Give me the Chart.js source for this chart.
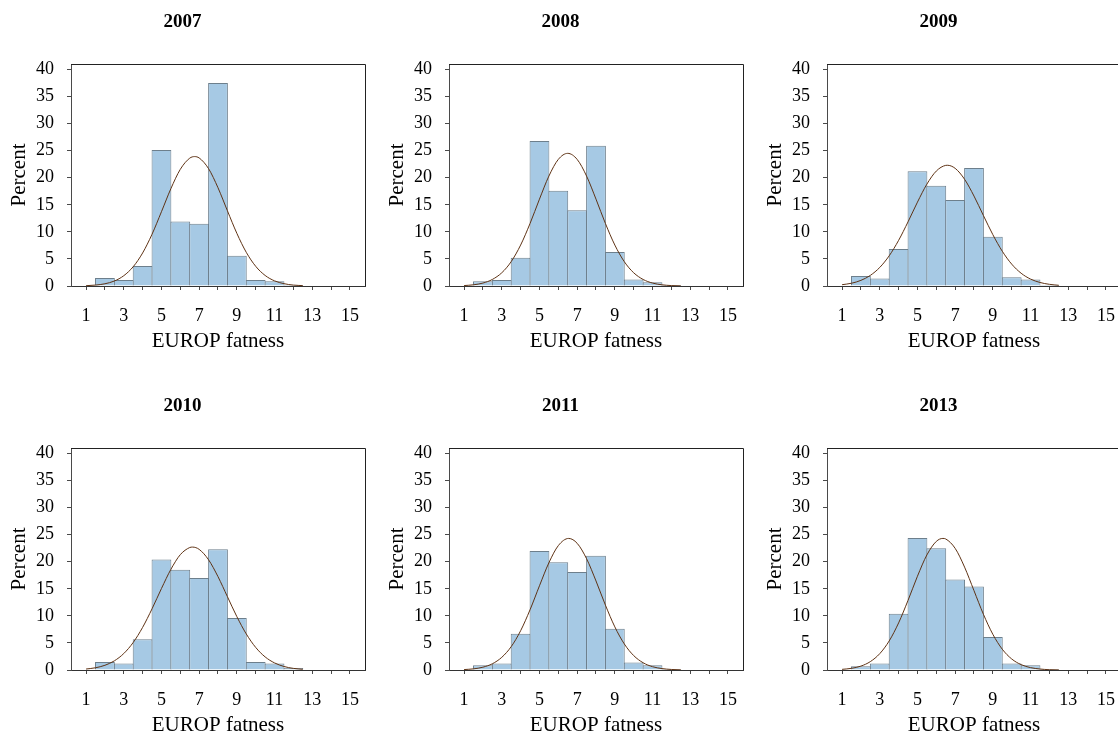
<!DOCTYPE html>
<html>
<head>
<meta charset="utf-8">
<script src="https://cdn.jsdelivr.net/npm/chart.js@4.4.1/dist/chart.umd.min.js"></script>
<style>
html,body{margin:0;padding:0;background:#fff;overflow:hidden;width:1118px;height:736px;}
.panel{position:absolute;width:378px;height:384px;}
canvas{display:block;}
</style>
</head>
<body>
<div id="wrap"></div>
<script>
// ---------- data ----------
const years = ['2007', '2008', '2009', '2010', '2011', '2013'];
const bins = [1, 2, 3, 4, 5, 6, 7, 8, 9, 10, 11, 12, 13, 14, 15];
const xTickLabels = ['1', '3', '5', '7', '9', '11', '13', '15'];
const yTickValues = [0, 5, 10, 15, 20, 25, 30, 35, 40];

const pct2007 = [0, 1.5, 1.1, 3.7, 25.1, 11.9, 11.5, 37.5, 5.6, 1.1, 0.9, 0.2, 0, 0, 0];
const pct2008 = [0, 0.9, 1.1, 5.2, 26.8, 17.6, 14.0, 25.9, 6.3, 1.2, 0.7, 0.2, 0, 0, 0];
const pct2009 = [0, 1.85, 1.4, 6.85, 21.2, 18.5, 15.9, 21.8, 9.1, 1.6, 1.2, 0.2, 0, 0, 0];
const pct2010 = [0, 1.5, 1.2, 5.7, 20.4, 18.5, 17.0, 22.3, 9.6, 1.5, 1.2, 0.35, 0, 0, 0];
const pct2011 = [0, 0.9, 1.2, 6.7, 22.0, 19.9, 18.1, 21.1, 7.6, 1.4, 0.9, 0.2, 0, 0, 0];
const pct2013 = [0, 0.7, 1.2, 10.4, 24.4, 22.5, 16.7, 15.4, 6.1, 1.2, 0.9, 0.2, 0, 0, 0];

// fitted normal curve, read at these x positions
const curveGrid = [1, 1.5, 2, 2.5, 3, 3.5, 4, 4.5, 5, 5.5, 6, 6.5, 7, 7.5, 8, 8.5, 9, 9.5, 10, 10.5, 11, 11.5, 12, 12.5];
const curve2007 = [0.06, 0.17, 0.41, 0.92, 1.90, 3.56, 6.10, 9.56, 13.72, 17.98, 21.55, 23.61, 23.65, 21.67, 18.14, 13.89, 9.73, 6.22, 3.64, 1.95, 0.95, 0.43, 0.17, 0.07];
const curve2008 = [0.08, 0.22, 0.54, 1.21, 2.44, 4.50, 7.56, 11.54, 16.04, 20.30, 23.38, 24.5, 23.38, 20.30, 16.04, 11.54, 7.56, 4.50, 2.44, 1.21, 0.54, 0.22, 0.08, 0.03];
const curve2009 = [0.24, 0.51, 1.04, 1.96, 3.43, 5.58, 8.43, 11.85, 15.49, 18.81, 21.23, 22.28, 21.73, 19.71, 16.61, 13.01, 9.48, 6.42, 4.04, 2.36, 1.28, 0.65, 0.31, 0.13];
const curve2010 = [0.18, 0.41, 0.87, 1.69, 3.04, 5.08, 7.87, 11.30, 15.05, 18.59, 21.30, 22.62, 22.28, 20.35, 17.24, 13.54, 9.86, 6.66, 4.17, 2.42, 1.31, 0.65, 0.30, 0.13];
const curve2011 = [0.08, 0.21, 0.52, 1.15, 2.34, 4.31, 7.25, 11.12, 15.55, 19.80, 22.97, 24.29, 23.40, 20.55, 16.44, 11.98, 7.96, 4.82, 2.66, 1.34, 0.61, 0.26, 0.10, 0.03];
const curve2013 = [0.12, 0.31, 0.72, 1.55, 3.02, 5.37, 8.70, 12.86, 17.32, 21.25, 23.75, 24.20, 22.47, 19.00, 14.65, 10.29, 6.59, 3.84, 2.04, 0.99, 0.44, 0.18, 0.06, 0.02];
// curve peaks [x, percent]
const curvePeaks = [[6.76, 23.9], [6.5, 24.5], [6.58, 22.3], [6.65, 22.7], [6.55, 24.3], [6.35, 24.3]];

const pctSeries = [pct2007, pct2008, pct2009, pct2010, pct2011, pct2013];
const curveSeries = [curve2007, curve2008, curve2009, curve2010, curve2011, curve2013];

// ---------- style ----------
const FONT = "'Liberation Serif', 'Times New Roman', serif";
const BAR_FILL = '#a6c9e4';
const BAR_EDGE = '#6d7f8c';
const CURVE = '#5e3214';
const AXIS = '#4a4a4a';
const TEXT = '#000000';

const PANEL_W = 378, PANEL_H = 384;
const colLeft = [0, 378, 756];
const rowTop = [0, 384];

const framePlugin = {
  id: 'frame',
  afterDraw(chart, args, opts) {
    const { ctx, chartArea } = chart;
    const { left, right, top, bottom } = chartArea;
    ctx.save();
    ctx.strokeStyle = '#222';
    ctx.lineWidth = 1;
    ctx.beginPath();
    ctx.moveTo(left, Math.round(top) + 0.5);
    ctx.lineTo(Math.round(right) + 0.5, Math.round(top) + 0.5);
    ctx.lineTo(Math.round(right) + 0.5, bottom);
    ctx.stroke();
    ctx.fillStyle = '#000';
    ctx.font = 'bold 19px ' + FONT;
    ctx.textAlign = 'center';
    ctx.textBaseline = 'middle';
    ctx.fillText(opts.year, right / 2, 22);
    ctx.restore();
  }
};

function curvePoints(vals, peak) {
  const pts = curveGrid.map((x, i) => ({ x: x, y: vals[i] }))
    .filter(p => Math.abs(p.x - peak[0]) > 0.05);
  pts.push({ x: peak[0], y: peak[1] });
  pts.sort((a, b) => a.x - b.x);
  return pts;
}

const wrap = document.getElementById('wrap');
years.forEach((yr, idx) => {
  const div = document.createElement('div');
  div.className = 'panel';
  div.style.left = colLeft[idx % 3] + 'px';
  div.style.top = rowTop[Math.floor(idx / 3)] + 'px';
  const cv = document.createElement('canvas');
  cv.width = PANEL_W; cv.height = PANEL_H;
  cv.style.width = PANEL_W + 'px'; cv.style.height = PANEL_H + 'px';
  div.appendChild(cv);
  wrap.appendChild(div);

  const vals = pctSeries[idx];
  new Chart(cv, {
    type: 'bar',
    data: {
      datasets: [
        {
          type: 'line',
          data: curvePoints(curveSeries[idx], curvePeaks[idx]),
          borderColor: CURVE,
          borderWidth: 1,
          pointRadius: 0,
          fill: false,
          cubicInterpolationMode: 'monotone',
          order: 0
        },
        {
          type: 'bar',
          data: bins.map((b, i) => ({ x: b, y: vals[i] })),
          backgroundColor: BAR_FILL,
          borderColor: BAR_EDGE,
          borderWidth: 1,
          barPercentage: 1.05,
          categoryPercentage: 1,
          order: 1
        }
      ]
    },
    options: {
      responsive: false,
      animation: false,
      devicePixelRatio: 1,
      layout: { padding: { left: 0, right: 13, top: 64, bottom: 0 } },
      plugins: {
        legend: { display: false },
        tooltip: { enabled: false },
        title: { display: false },
        frame: { year: yr }
      },
      scales: {
        x: {
          type: 'linear',
          min: 0.2,
          max: 15.8,
          offset: false,
          ticks: {
            stepSize: 1,
            autoSkip: false,
            includeBounds: false,
            maxRotation: 0,
            padding: 15,
            color: TEXT,
            font: { family: FONT, size: 18 },
            callback: (v) => xTickLabels.includes(String(v)) ? String(v) : ''
          },
          grid: { drawOnChartArea: false, offset: false, tickLength: 4, color: AXIS },
          border: { display: true, color: '#333' },
          title: {
            display: true,
            text: 'EUROP fatness',
            color: TEXT,
            font: { family: FONT, size: 21 },
            padding: { top: 0, bottom: 30 }
          },
          afterFit: (s) => { s.height = 98; }
        },
        y: {
          min: 0,
          max: 41,
          ticks: {
            stepSize: 5,
            includeBounds: false,
            padding: 13,
            color: TEXT,
            font: { family: FONT, size: 18 },
            callback: (v) => yTickValues.includes(v) ? String(v) : ''
          },
          grid: { drawOnChartArea: false, tickLength: 4, color: AXIS },
          border: { display: true, color: AXIS },
          title: {
            display: true,
            text: 'Percent',
            color: TEXT,
            font: { family: FONT, size: 21 },
            padding: { top: 7, bottom: 0 }
          },
          afterFit: (s) => { s.width = 71; }
        }
      }
    },
    plugins: [framePlugin]
  });
});
</script>
</body>
</html>
